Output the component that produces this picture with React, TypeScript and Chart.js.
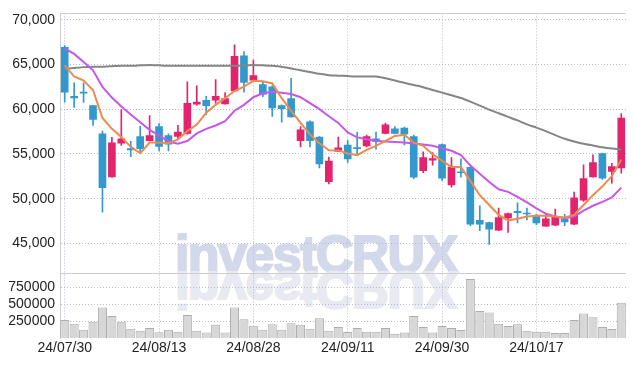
import React, { useEffect, useRef } from 'react';
import { Chart, registerables } from 'chart.js';

Chart.register(...registerables);

const dates = [
  '24/07/30', '24/07/31', '24/08/01', '24/08/02', '24/08/05', '24/08/06', '24/08/07', '24/08/08', '24/08/09', '24/08/12',
  '24/08/13', '24/08/14', '24/08/16', '24/08/19', '24/08/20', '24/08/21', '24/08/22', '24/08/23', '24/08/26', '24/08/27',
  '24/08/28', '24/08/29', '24/08/30', '24/09/02', '24/09/03', '24/09/04', '24/09/05', '24/09/06', '24/09/09', '24/09/10',
  '24/09/11', '24/09/12', '24/09/13', '24/09/19', '24/09/20', '24/09/23', '24/09/24', '24/09/25', '24/09/26', '24/09/27',
  '24/09/30', '24/10/02', '24/10/04', '24/10/07', '24/10/08', '24/10/10', '24/10/11', '24/10/14', '24/10/15', '24/10/16',
  '24/10/17', '24/10/18', '24/10/21', '24/10/22', '24/10/23', '24/10/24', '24/10/25', '24/10/28', '24/10/29', '24/10/30',
];

const opens = [
  66900, 61450, 61900, 60400, 57250, 52450, 56200, 55600, 56950, 56500,
  58050, 57050, 56950, 57300, 60550, 61000, 61000, 60600, 62050, 65950,
  63250, 62750, 62500, 60400, 61200, 56500, 58600, 56900, 51900, 55300,
  56000, 55700, 55900, 56700, 57300, 57800, 57900, 56950, 53150, 54300,
  56050, 51550, 53000, 53500, 47600, 47350, 46500, 47850, 48600, 48400,
  48000, 46950, 47050, 47700, 47150, 49850, 52450, 55050, 53050, 53450,
];
const highs = [
  67100, 62950, 62950, 60400, 57550, 56850, 59950, 56400, 58100, 59300,
  58400, 57250, 58200, 63050, 62600, 61450, 63300, 61850, 67200, 66450,
  65500, 63000, 62600, 60500, 63450, 58050, 58700, 56950, 54650, 56900,
  56500, 57450, 57100, 57450, 58450, 58050, 58000, 57100, 55250, 55150,
  56100, 54600, 54450, 53550, 49200, 47400, 48950, 48400, 49550, 48950,
  48300, 48300, 48850, 48250, 50750, 53800, 54900, 55100, 53950, 59500,
];
const lows = [
  60800, 60200, 60750, 58200, 48500, 52400, 55950, 54700, 55150, 56450,
  55350, 55350, 56700, 57200, 60450, 59400, 60650, 60550, 61950, 61900,
  63150, 61400, 59200, 58550, 59100, 55800, 55800, 53450, 51650, 55250,
  54050, 54800, 55800, 55550, 57250, 57250, 56000, 52250, 52900, 53750,
  52050, 51300, 52400, 47000, 46450, 44900, 46450, 46250, 47300, 47650,
  47100, 46900, 47000, 47000, 47100, 49700, 52400, 52150, 51750, 52850,
];
const closes = [
  61900, 61250, 61800, 58850, 51250, 56250, 56700, 55450, 55600, 57050,
  55850, 56100, 57450, 60650, 60800, 60400, 61450, 61200, 65900, 63000,
  63750, 61650, 60150, 60050, 59150, 57700, 56500, 53900, 54200, 55700,
  54450, 55600, 56950, 56400, 58250, 57300, 57200, 52400, 54600, 54500,
  52300, 53550, 52900, 47150, 47150, 46600, 47900, 48350, 48450, 48300,
  47300, 47750, 47950, 47400, 50100, 52250, 54050, 52300, 53600, 59000,
];
const volumes = [
  269000, 211000, 124000, 240000, 453000, 327000, 240000, 138000, 109000, 148000,
  84000, 124000, 94000, 342000, 109000, 80000, 196000, 80000, 453000, 279000,
  182000, 124000, 206000, 124000, 221000, 196000, 138000, 293000, 109000, 163000,
  90000, 148000, 94000, 94000, 148000, 65000, 80000, 327000, 163000, 80000,
  177000, 148000, 119000, 879000, 400000, 381000, 211000, 177000, 206000, 109000,
  94000, 94000, 75000, 75000, 269000, 366000, 308000, 163000, 134000, 526000,
];
const ma5 = [
  64890, 63650, 63200, 62140, 59020, 57810, 56900, 55800, 55090, 56270,
  56270, 56200, 56640, 57560, 58290, 59600, 60490, 61230, 62030, 62510,
  63170, 63130, 62880, 61230, 59830, 58470, 57190, 56200, 55420, 55400,
  55060, 54870, 55470, 55910, 56460, 57010, 57150, 56270, 55910, 54980,
  54250, 53550, 53550, 52000, 50400, 49300, 48200, 47570, 47760, 48010,
  48090, 48090, 48010, 47900, 48200, 49300, 50400, 51390, 52530, 54370,
];
const ma20 = [
  66800, 66180, 65270, 64340, 62480, 61300, 60300, 59400, 58550, 57700,
  57080, 56400, 56150, 56450, 57300, 57800, 58180, 58660, 59830, 60490,
  61340, 61780, 61960, 61850, 61700, 61340, 60670, 60010, 59210, 58470,
  57400, 56850, 56640, 56460, 56400, 56330, 56270, 56160, 56050, 55910,
  55650, 55360, 54870, 53700, 52800, 51870, 51060, 50770, 50220, 49590,
  48930, 48340, 48010, 47830, 48010, 48670, 49220, 49660, 50140, 51240,
];
const ma60 = [
  64500, 64600, 64700, 64750, 64750, 64800, 64850, 64850, 64900, 64950,
  64900, 64850, 64850, 64850, 64850, 64850, 64850, 64850, 64850, 64900,
  64950, 64900, 64850, 64750, 64550, 64350, 64150, 63950, 63800, 63750,
  63700, 63650, 63650, 63650, 63450, 63200, 62950, 62700, 62450, 62150,
  61850, 61550, 61250, 60850, 60400, 59950, 59550, 59150, 58750, 58300,
  57950, 57550, 57100, 56700, 56400, 56150, 55950, 55750, 55600, 55500,
];

const priceTicks = [45000, 50000, 55000, 60000, 65000, 70000];
const volumeTicks = [250000, 500000, 750000];
const labelEvery = 10;
const priceMin = 41700;
const priceMax = 70700;
const volumeMax = 966000;

const UP = '#e3236c';
const DOWN = '#3399cc';
const GRID = '#b7bbcf';
const FRAME = '#cdcdcd';
const TICK = '#222222';
const FONT = "'Liberation Sans', Arial, sans-serif";

export default function App() {
  const ref = useRef<HTMLCanvasElement>(null);

  useEffect(() => {
    if (!ref.current) return;
    const colors = closes.map((c, i) => (c >= opens[i] ? UP : DOWN));

    const framePlugin = {
      id: 'frameLines',
      beforeDatasetsDraw(chart: any) {
        const { ctx, chartArea } = chart;
        const py = chart.scales.y;
        ctx.save();
        ctx.strokeStyle = FRAME;
        ctx.lineWidth = 1;
        ctx.beginPath();
        const t = Math.round(chartArea.top) + 0.5;
        const b = Math.round(py.bottom) + 0.5;
        ctx.moveTo(chartArea.left, t);
        ctx.lineTo(chartArea.right, t);
        ctx.moveTo(chartArea.left, b);
        ctx.lineTo(chartArea.right, b);
        ctx.stroke();
        ctx.restore();
      },
    };

    const tickFont = { family: FONT, size: 14 };

    const chart = new Chart(ref.current, {
      type: 'bar',
      data: {
        labels: dates,
        datasets: [
          { type: 'line', data: ma5, borderColor: '#ef8a4e', borderWidth: 2, pointRadius: 0, tension: 0, yAxisID: 'y', order: 0 } as any,
          { type: 'line', data: ma20, borderColor: '#c557ea', borderWidth: 2, pointRadius: 0, tension: 0, yAxisID: 'y', order: 0 } as any,
          { type: 'line', data: ma60, borderColor: '#858585', borderWidth: 2, pointRadius: 0, tension: 0.2, yAxisID: 'y', order: 0 } as any,
          { type: 'bar', data: lows.map((l, i) => [l, highs[i]]), backgroundColor: colors, barThickness: 1, grouped: false, yAxisID: 'y', order: 2 } as any,
          { type: 'bar', data: opens.map((o, i) => [o, closes[i]]), backgroundColor: colors, barThickness: 7, minBarLength: 1, grouped: false, yAxisID: 'y', order: 1 } as any,
          { type: 'bar', data: volumes, backgroundColor: '#d7d7d7', borderColor: '#adadad', borderWidth: 1, grouped: false, categoryPercentage: 1, barPercentage: 0.96, yAxisID: 'yv', order: 3 } as any,
        ],
      },
      options: {
        responsive: false,
        animation: false,
        layout: { padding: { top: 9, right: 8, left: 0, bottom: 0 } },
        plugins: { legend: { display: false }, tooltip: { enabled: false } },
        scales: {
          x: {
            type: 'category',
            offset: true,
            grid: { offset: false, color: GRID, drawTicks: false, lineWidth: 1 },
            border: { display: false, dash: [1, 2] },
            afterBuildTicks: (s: any) => {
              s.ticks = dates.map((_, i) => ({ value: i })).filter((t) => t.value % labelEvery === 0);
            },
            ticks: { autoSkip: false, maxRotation: 0, minRotation: 0, padding: 2, color: TICK, font: tickFont },
            afterFit: (s: any) => { s.height = 28; },
          },
          yv: {
            type: 'linear',
            position: 'left',
            stack: 'panes',
            stackWeight: 1,
            min: 0,
            max: volumeMax,
            afterBuildTicks: (s: any) => { s.ticks = volumeTicks.map((v) => ({ value: v })); },
            ticks: { autoSkip: false, padding: 5, color: TICK, font: tickFont, callback: (v: any) => String(v) },
            grid: { color: GRID, drawTicks: false },
            border: { display: true, color: FRAME, dash: [1, 2] },
            afterFit: (s: any) => { s.width = 60; },
          },
          y: {
            type: 'linear',
            position: 'left',
            stack: 'panes',
            stackWeight: 4,
            min: priceMin,
            max: priceMax,
            afterBuildTicks: (s: any) => { s.ticks = priceTicks.map((v) => ({ value: v })); },
            ticks: { autoSkip: false, padding: 5, color: TICK, font: tickFont, callback: (v: any) => Number(v).toLocaleString('en-US') },
            grid: { color: GRID, drawTicks: false },
            border: { display: true, color: FRAME, dash: [1, 2] },
            afterFit: (s: any) => { s.width = 60; },
          },
        },
      } as any,
      plugins: [framePlugin],
    });
    return () => chart.destroy();
  }, []);

  const wmBase: React.CSSProperties = {
    position: 'absolute',
    left: 175,
    top: 272 - 44.0,
    fontFamily: "'Liberation Sans', Arial, sans-serif",
    fontWeight: 700,
    fontSize: 52,
    lineHeight: '52px',
    letterSpacing: -1.6,
    whiteSpace: 'nowrap',
  };

  return (
    <div style={{ position: 'absolute', left: 0, top: 0, width: 634, height: 366, background: '#ffffff', overflow: 'hidden' }}>
      <div style={{ ...wmBase, color: '#d3d8ea', WebkitTextStroke: '2px #d3d8ea' }}>investCRUX</div>
      <div style={{ ...wmBase, color: '#e8e9f1', WebkitTextStroke: '2px #e8e9f1', transform: 'scaleY(-1)', transformOrigin: '0 44px' }}>investCRUX</div>
      <canvas ref={ref} width={634} height={366} style={{ position: 'absolute', left: 0, top: 0 }} />
    </div>
  );
}
